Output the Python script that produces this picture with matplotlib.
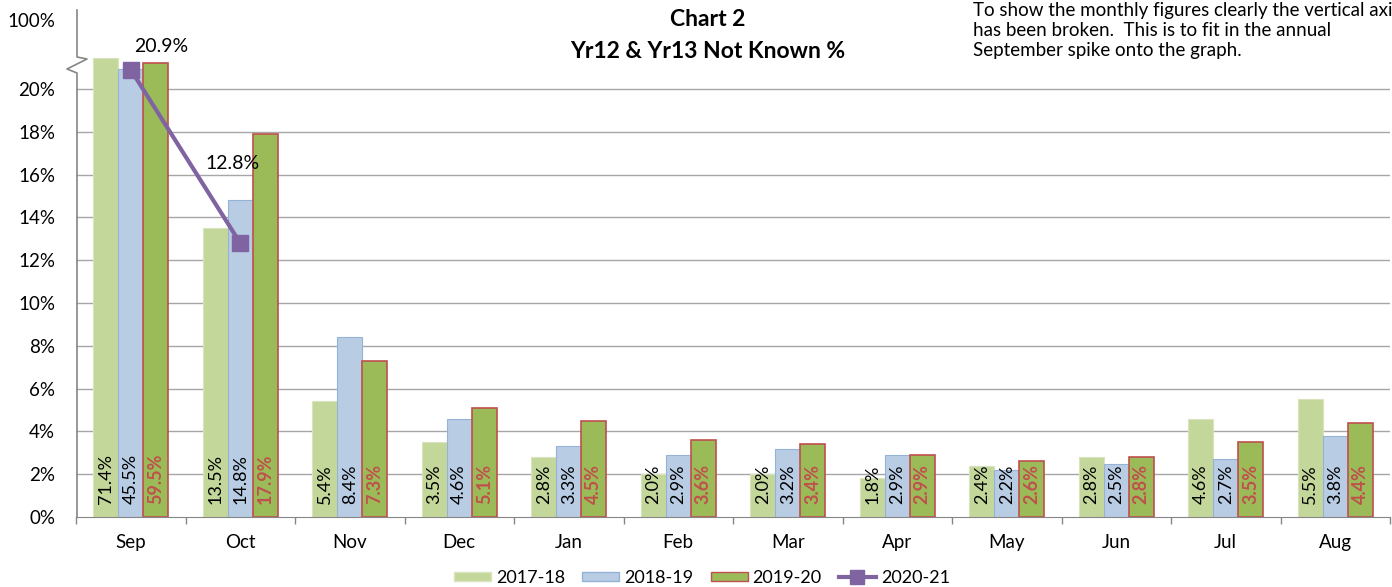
import numpy as np
import matplotlib.pyplot as plt
from matplotlib.lines import Line2D
from matplotlib.patches import Patch

plt.rcParams['font.family'] = ['Lato', 'DejaVu Sans']

months = ["Sep", "Oct", "Nov", "Dec", "Jan", "Feb", "Mar", "Apr", "May", "Jun", "Jul", "Aug"]
y2017 = [71.4, 13.5, 5.4, 3.5, 2.8, 2.0, 2.0, 1.8, 2.4, 2.8, 4.6, 5.5]
y2018 = [45.5, 14.8, 8.4, 4.6, 3.3, 2.9, 3.2, 2.9, 2.2, 2.5, 2.7, 3.8]
y2019 = [59.5, 17.9, 7.3, 5.1, 4.5, 3.6, 3.4, 2.9, 2.6, 2.8, 3.5, 4.4]
y2020 = [20.9, 12.8]
series_names = ["2017-18", "2018-19", "2019-20", "2020-21"]
yticks = [0, 2, 4, 6, 8, 10, 12, 14, 16, 18, 20]

W, H = 1392, 587
BREAK = 20.0


def squash(v):
    # values above the break are compressed so the Sep spike fits
    v = np.asarray(v, dtype=float)
    return np.where(v > BREAK, BREAK + 1.13 * np.log(np.maximum(v, BREAK) / BREAK), v)


fig = plt.figure(figsize=(W / 100, H / 100), dpi=100)
ax = fig.add_axes([76 / W, 1 - 517 / H, (1390 - 76) / W, (517 - 10) / H])

x = np.arange(len(months))
bw = 0.228
light_green = "#C4D79B"
light_blue = "#B8CCE4"
green = "#9BBB59"
red = "#C0504D"
purple = "#8064A2"

ax.bar(x - bw, squash(y2017), bw, color=light_green, edgecolor="#D7E4BD", linewidth=0.8)
ax.bar(x, squash(y2018), bw, color=light_blue, edgecolor="#95B3D7", linewidth=0.8)
ax.bar(x + bw, squash(y2019), bw, color=green, edgecolor=red, linewidth=1.2)

for i in range(len(months)):
    ax.text(x[i] - bw, 0.6, f"{y2017[i]:.1f}%", rotation=90, ha="center", va="bottom", fontsize=13, color="black")
    ax.text(x[i], 0.6, f"{y2018[i]:.1f}%", rotation=90, ha="center", va="bottom", fontsize=13, color="black")
    ax.text(x[i] + bw, 0.6, f"{y2019[i]:.1f}%", rotation=90, ha="center", va="bottom", fontsize=13,
            color=red, fontweight="bold")

ax.plot(x[:len(y2020)], y2020, color=purple, linewidth=3, marker="s", markersize=11)
ax.annotate(f"{y2020[0]:.1f}%", (x[0], y2020[0]), xytext=(21.6, 17), textcoords="offset points",
            ha="center", va="center", fontsize=14)
ax.annotate(f"{y2020[1]:.1f}%", (x[1], y2020[1]), xytext=(-5.8, 57.6), textcoords="offset points",
            ha="center", va="center", fontsize=14)

ymax = (517 - 10) / 21.4
ax.set_ylim(0, ymax)
ax.set_xlim(-0.5, len(months) - 0.5)

ax.set_yticks(yticks + [ymax - 10 / 21.4])
ax.set_yticklabels([f"{t}%" for t in yticks] + ["100%"], fontsize=13.5)
ax.tick_params(axis="y", length=0, pad=15)
for t in yticks[1:]:
    ax.axhline(t, color="#A6A6A6", linewidth=1, zorder=0)

ax.set_xticks(x)
ax.set_xticklabels(months, fontsize=13.5)
ax.set_xticks(np.arange(-0.5, len(months) + 0.5, 1), minor=True)
ax.tick_params(axis="x", which="major", length=0, pad=12)
ax.tick_params(axis="x", which="minor", length=5, color="#868686", width=1)

for s in ["top", "right", "left"]:
    ax.spines[s].set_visible(False)
ax.spines["bottom"].set_color("#868686")

# left axis with the break zigzag
px = [77, 77, 87, 67, 77, 77]
py = [10, 57, 59, 69, 73, 517]
fig.add_artist(Line2D([p / W for p in px], [1 - p / H for p in py], color="#868686", linewidth=1.2))

fig.text(708 / W, 1 - 20 / H, "Chart 2", ha="center", va="center", fontsize=16.5, fontweight="bold")
fig.text(708 / W, 1 - 52 / H, "Yr12 & Yr13 Not Known %", ha="center", va="center", fontsize=16.5,
         fontweight="bold")
fig.text(973 / W, 1 - 2 / H,
         "To show the monthly figures clearly the vertical axis\n"
         "has been broken.  This is to fit in the annual\n"
         "September spike onto the graph.",
         ha="left", va="top", fontsize=13.5, linespacing=1.2)

handles = [
    Patch(facecolor=light_green, edgecolor="#D7E4BD"),
    Patch(facecolor=light_blue, edgecolor="#95B3D7"),
    Patch(facecolor=green, edgecolor=red),
    Line2D([0], [0], color=purple, linewidth=3, marker="s", markersize=10),
]
fig.legend(handles, series_names, loc="center", bbox_to_anchor=(702 / W, 1 - 578 / H), ncol=4,
           frameon=False, fontsize=13, handlelength=2.05, handleheight=0.45, columnspacing=0.94,
           handletextpad=0.28, borderpad=0)

fig.savefig("out.png", dpi=100)
